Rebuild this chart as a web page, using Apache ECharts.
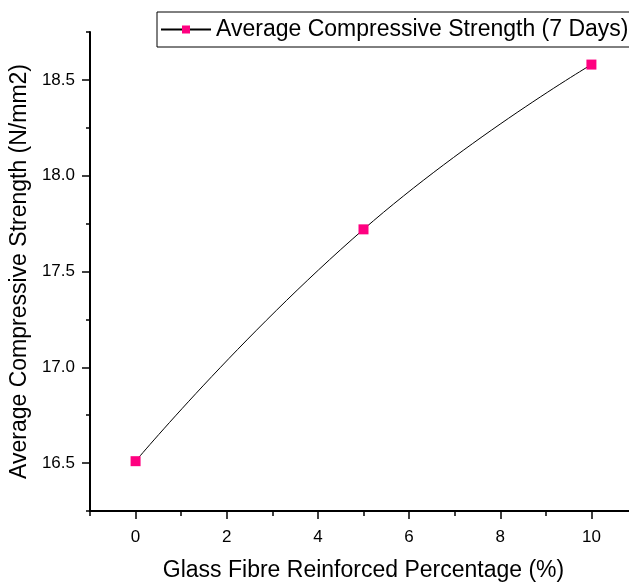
<!DOCTYPE html>
<html>
<head>
<meta charset="utf-8">
<script src="https://cdn.jsdelivr.net/npm/echarts@6/dist/echarts.min.js"></script>
<style>
  html, body { margin: 0; padding: 0; background: #fff; }
  #chart { width: 629px; height: 584px; }
</style>
</head>
<body>
<div id="chart"></div>
<script>
const fibre = [0, 5, 10];
const strength = [16.51, 17.72, 18.58];
const xMajor = [0, 2, 4, 6, 8, 10];
const xMinor = [-1, 1, 3, 5, 7, 9, 11];
const yMajor = [16.5, 17.0, 17.5, 18.0, 18.5];
const yMinor = [16.25, 16.75, 17.25, 17.75, 18.25, 18.75];

const chart = echarts.init(document.getElementById("chart"));
const font = "Liberation Sans, Arial, sans-serif";

const options = {
  animation: false,
  textStyle: { fontFamily: font },
  legend: {
    left: 157,
    top: 12,
    padding: [6, 60, 6, 3],
    borderColor: "#000",
    borderWidth: 1,
    itemWidth: 50,
    itemHeight: 10,
    textStyle: { fontSize: 23, color: "#000", fontFamily: font, lineHeight: 23 },
    data: ["Average Compressive Strength (7 Days)"],
  },
  grid: { left: 90, top: 32, width: 547, height: 479, outerBoundsMode: "none", containLabel: false },
  xAxis: [
    {
      type: "value",
      min: -1,
      max: 11,
      name: "Glass Fibre Reinforced Percentage (%)",
      nameLocation: "middle",
      nameGap: 48,
      nameTextStyle: { fontSize: 23, color: "#000", fontFamily: font },
      axisLine: { onZero: false, lineStyle: { color: "#000", width: 2 } },
      axisTick: { length: 8, lineStyle: { color: "#000", width: 1.5 }, customValues: xMajor },
      axisLabel: { fontSize: 17, color: "#000", margin: 18, fontFamily: font, customValues: xMajor },
      splitLine: { show: false },
    },
    {
      type: "value",
      min: -1,
      max: 11,
      position: "bottom",
      axisLine: { show: false, onZero: false },
      axisTick: { length: 5, lineStyle: { color: "#000", width: 1.5 }, customValues: xMinor },
      axisLabel: { show: false },
      splitLine: { show: false },
    },
  ],
  yAxis: [
    {
      type: "value",
      min: 16.25,
      max: 18.75,
      name: "Average Compressive Strength (N/mm2)",
      nameLocation: "middle",
      nameGap: 55,
      nameTextStyle: { fontSize: 23, color: "#000", fontFamily: font },
      axisLine: { show: true, onZero: false, lineStyle: { color: "#000", width: 2 } },
      axisTick: { show: true, length: 8, lineStyle: { color: "#000", width: 1.5 }, customValues: yMajor },
      axisLabel: {
        fontSize: 17,
        color: "#000",
        margin: 15,
        fontFamily: font,
        customValues: yMajor,
        formatter: (v) => v.toFixed(1),
      },
      splitLine: { show: false },
    },
    {
      type: "value",
      min: 16.25,
      max: 18.75,
      position: "left",
      axisLine: { show: false, onZero: false },
      axisTick: { show: true, length: 4, lineStyle: { color: "#000", width: 1.5 }, customValues: yMinor },
      axisLabel: { show: false },
      splitLine: { show: false },
    },
  ],
  series: [
    {
      name: "Average Compressive Strength (7 Days)",
      type: "line",
      smooth: true,
      symbol: "rect",
      symbolSize: 10,
      itemStyle: { color: "#FF0080" },
      lineStyle: { color: "#000", width: 1 },
      data: fibre.map((x, i) => [x, strength[i]]),
    },
  ],
};

chart.setOption(options);
</script>
</body>
</html>
